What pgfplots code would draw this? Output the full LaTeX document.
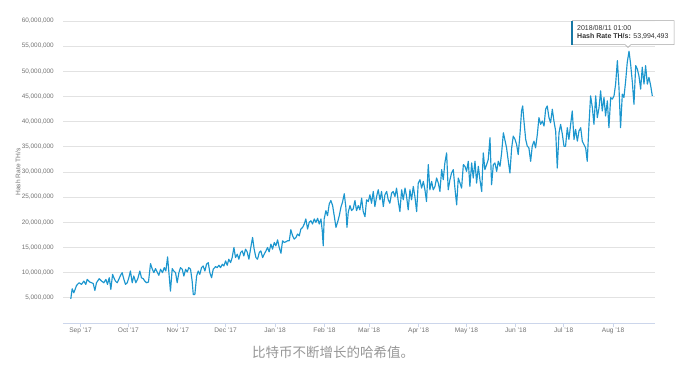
\documentclass[border=0pt]{standalone}
\usepackage{pgfplots}
\pgfplotsset{compat=1.18}
\usepackage{fontspec}
\setmainfont{Liberation Sans}
\newfontfamily\cjk{Noto Sans CJK SC}
\definecolor{linec}{RGB}{28,150,206}
\definecolor{gridc}{RGB}{226,226,226}
\definecolor{axisc}{RGB}{204,214,235}
\definecolor{labc}{RGB}{115,115,115}
\definecolor{capc}{RGB}{150,150,150}
\begin{document}
\begin{tikzpicture}
\useasboundingbox (0,0) rectangle (675pt,368pt);
\begin{axis}[
  at={(63pt,45pt)}, anchor=south west,
  width=592pt, height=302pt, scale only axis,
  xmin=-11, xmax=360.3, ymin=0, ymax=60,
  axis x line*=bottom, axis y line*=left,
  y axis line style={draw=none},
  x axis line style={draw=axisc, line width=0.8pt},
  ytick={5,10,15,20,25,30,35,40,45,50,55,60},
  yticklabels={{5,000,000},{10,000,000},{15,000,000},{20,000,000},{25,000,000},{30,000,000},{35,000,000},{40,000,000},{45,000,000},{50,000,000},{55,000,000},{60,000,000}},
  ymajorgrids, grid style={draw=gridc, line width=0.7pt},
  ytick style={draw=none},
  xtick={0,30,61,91,122,153,181,212,242,273,303,334},
  xticklabels={Sep '17,Oct '17,Nov '17,Dec '17,Jan '18,Feb '18,Mar '18,Apr '18,May '18,Jun '18,Jul '18,Aug '18},
  xtick style={draw=axisc, line width=0.7pt},
  tick align=outside, major tick length=4pt,
  yticklabel style={font=\fontsize{6.4}{7}\selectfont, text=labc, anchor=east, inner sep=0pt, xshift=-5pt},
  xticklabel style={font=\fontsize{6.6}{7}\selectfont, text=labc, anchor=north, inner sep=0pt, yshift=-1pt},
  ylabel={Hash Rate TH/s},
  every axis y label/.style={at={(axis description cs:-0.076,0.5)}, rotate=90, anchor=center, font=\fontsize{6.6}{8}\selectfont, text=labc},
  clip=false,
]
\addplot[linec, line width=1.15pt, line join=round, mark=none] coordinates {
(-6.1,4.8) (-5.25,6.8) (-4.2,6.0) (-2.5,7.47) (-0.86,8.0) (0.6,7.67) (2.07,8.33) (3.3,7.67) (4.16,8.67) (5.8,8.13) (6.9,8.0) (7.9,7.87) (9.0,6.47) (10.0,8.0) (11.7,8.8) (13.2,8.33) (14.6,8.0) (15.9,8.67) (16.9,7.67) (18.0,9.0) (19.0,6.67) (20.1,9.67) (20.9,9.0) (21.9,8.33) (23.0,8.0) (24.0,8.67) (25.1,9.47) (26.1,10.0) (27.2,8.67) (28.2,7.67) (29.3,8.0) (30.3,9.0) (31.3,10.33) (32.4,8.0) (33.4,9.33) (34.7,8.0) (35.9,8.8) (37.2,10.33) (38.2,9.0) (39.3,8.8) (40.3,8.33) (41.4,8.0) (42.6,8.13) (43.9,11.8) (44.9,10.8) (46.0,10.0) (47.0,10.8) (48.1,10.13) (49.1,9.47) (50.2,10.67) (51.4,10.0) (52.5,11.0) (53.5,10.33) (54.6,13.13) (55.6,9.33) (56.4,6.33) (57.5,10.8) (58.5,10.33) (59.6,10.0) (60.6,8.0) (61.7,10.0) (62.7,11.0) (63.8,10.67) (64.8,9.33) (65.9,10.67) (66.9,10.13) (67.9,11.0) (69.0,10.67) (70.0,8.33) (70.7,5.67) (71.7,5.67) (72.8,9.33) (73.8,10.33) (74.8,9.67) (75.9,11.0) (76.9,11.33) (78.0,10.33) (79.0,11.67) (80.1,12.0) (81.1,10.0) (82.2,9.0) (83.2,10.67)
(84.7,11.2) (85.7,11.0) (86.8,11.47) (87.8,11.0) (88.9,11.67) (89.9,11.33) (91.0,12.33) (92.0,11.47) (93.0,12.67) (94.1,12.0) (95.1,13.0) (96.2,15.0) (97.2,13.0) (98.3,13.67) (99.3,12.67) (100.4,14.0) (101.4,14.33) (102.4,13.33) (103.5,14.67) (104.5,14.13) (105.6,12.67) (106.6,14.67) (107.9,17.0) (108.9,14.67) (110.0,13.0) (111.0,12.67) (112.1,14.0) (113.1,14.33) (114.2,13.0) (115.2,13.67) (116.3,14.33) (117.3,15.0) (118.3,14.13) (119.4,15.67) (120.4,14.67) (121.5,16.0) (122.5,15.33) (123.6,16.53) (124.6,15.0) (125.7,13.87) (126.7,16.33) (127.8,16.0) (128.8,16.13) (129.8,16.33) (130.9,16.33) (131.9,18.53) (133.0,17.33) (134.0,16.67) (135.1,17.0) (136.1,17.67) (137.2,17.33) (138.2,18.67) (139.3,19.0) (140.3,19.67) (141.3,20.67) (142.4,18.67) (143.4,20.0) (144.5,20.33) (145.5,19.67) (146.6,20.67) (147.6,20.0) (148.7,20.8) (149.7,19.67) (150.8,20.67) (151.6,18.33) (152.2,15.33) (152.8,20.67) (153.9,22.33) (154.9,21.33) (156.0,23.67) (157.0,24.33) (158.1,23.33) (159.1,21.33) (160.2,19.0) (161.2,20.0) (162.3,21.33) (163.3,23.0) (164.3,24.0) (165.4,25.67) (166.4,23.0) (167.1,19.0) (167.9,22.0) (169.0,23.33) (170.0,22.33) (171.0,22.67) (172.1,24.33) (173.1,22.33) (174.2,23.33)
(175.2,22.47) (176.3,24.8) (177.3,22.13) (178.4,21.13) (179.4,24.47) (180.5,24.13) (181.5,25.47) (182.5,23.8) (183.6,26.13) (184.6,23.13) (185.7,25.13) (186.7,26.47) (187.8,24.47) (188.8,26.13) (189.9,23.13) (190.9,25.47) (192.0,26.13) (193.0,24.47) (194.0,23.8) (195.1,25.8) (196.1,26.13) (197.2,25.13) (198.2,26.8) (199.3,24.13) (200.3,22.13) (201.4,26.47) (202.4,24.47) (203.5,26.8) (204.5,25.13) (205.5,22.47) (206.6,26.47) (207.6,24.47) (208.7,27.13) (209.7,25.13) (210.8,22.13) (211.8,27.8) (212.9,28.47) (213.9,26.8) (215.0,28.13) (216.0,26.47) (217.0,24.13) (218.1,31.47) (219.1,26.47) (220.2,28.13) (221.2,26.47) (222.3,27.13) (223.3,28.8) (224.4,27.8) (225.4,26.13) (226.5,30.47) (227.5,28.47) (228.5,31.8) (229.6,33.8) (230.6,26.47) (231.7,28.47) (232.7,29.8) (233.8,30.47) (234.8,26.8) (235.9,23.47) (236.9,28.8) (238.0,27.8) (239.0,26.8) (240.1,31.47) (241.1,31.13) (242.1,30.13) (243.2,32.13) (244.2,27.13) (245.3,31.8) (246.3,28.8) (247.4,32.13) (248.4,27.8) (249.5,31.13) (250.5,28.47) (251.6,26.13) (252.6,33.8) (253.6,30.47) (254.7,31.47) (255.7,32.47) (256.8,36.8) (257.8,27.47) (258.9,31.47) (259.9,31.8) (261.0,30.13) (262.0,32.13) (263.1,31.13) (264.1,33.8) (265.2,37.8)
(267.2,34.8) (268.3,32.13) (269.3,29.8) (270.4,34.8) (271.4,37.13) (272.5,36.47) (273.5,35.47) (274.5,33.47) (275.6,37.47) (276.6,42.13) (277.3,43.13) (278.1,40.13) (279.2,36.47) (280.2,35.13) (281.2,34.8) (282.3,32.13) (283.3,35.13) (284.4,36.13) (285.4,34.8) (286.5,37.47) (287.5,40.8) (288.6,39.47) (289.6,40.13) (290.7,39.13) (291.7,42.47) (292.7,43.13) (293.8,40.8) (294.8,39.8) (295.9,42.47) (296.9,40.13) (298.0,38.13) (299.0,30.8) (300.1,37.8) (301.1,39.47) (302.2,37.47) (303.2,35.13) (304.2,35.13) (305.3,38.8) (306.3,36.47) (307.4,39.47) (308.4,42.13) (309.5,36.47) (310.5,38.47) (311.6,36.13) (312.6,38.13) (313.7,38.8) (314.7,36.13) (315.7,35.47) (316.8,34.8) (317.8,32.13) (318.9,39.47) (319.9,45.13) (321.0,42.8) (322.0,39.47) (323.1,45.13) (324.1,40.8) (325.2,42.8) (326.2,46.13) (327.2,42.13) (328.3,44.8) (329.3,41.13) (330.4,44.13) (331.4,38.8) (332.5,44.8) (333.5,44.47) (334.6,45.13) (335.6,47.47) (336.7,52.13) (337.7,46.8) (338.7,38.8) (339.8,45.47) (340.8,44.8) (341.9,48.13) (342.9,51.8) (344.0,53.99) (345.0,51.47) (346.1,47.8) (347.1,43.47) (348.2,51.13) (349.2,50.47) (350.2,49.13) (351.3,46.47) (352.3,50.8) (353.4,47.47) (354.4,51.13) (355.5,47.47) (356.5,48.8) (357.6,47.13) (358.6,45.13)
};
\end{axis}
% tooltip
\fill[white, opacity=0.9] (572pt,323.5pt) rectangle (674pt,347.5pt);
\draw[black!35, line width=0.5pt] (572pt,347.5pt) -- (674pt,347.5pt) -- (674pt,323.5pt) -- (631pt,323.5pt) -- (628pt,320.5pt) -- (625pt,323.5pt) -- (572pt,323.5pt);
\draw[linec!80!black, line width=1.2pt] (572pt,323.5pt) -- (572pt,347.5pt);
\node[anchor=base west, inner sep=0pt, font=\fontsize{7}{8}\selectfont, text=black!80] at (577pt,337.5pt) {2018/08/11 01:00};
\node[anchor=base west, inner sep=0pt, font=\fontsize{7}{8}\selectfont, text=black!80] at (577pt,329.5pt) {\textbf{Hash Rate TH/s:} 53,994,493};
% caption
\node[font=\cjk\fontsize{13.5}{15}\selectfont, text=capc, anchor=center] at (333pt,16pt) {比特币不断增长的哈希值。};
\end{tikzpicture}
\end{document}
